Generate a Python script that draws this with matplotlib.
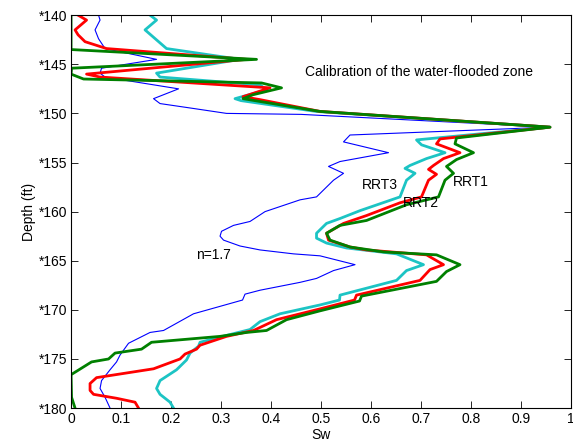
import numpy as np
import matplotlib
matplotlib.use("Agg")
import matplotlib.pyplot as plt

plt.rcParams.update({
    "font.family": ["Liberation Sans", "DejaVu Sans"], "font.size": 10,
    "xtick.direction": "in", "ytick.direction": "in",
    "xtick.top": True, "ytick.right": True,
})

# RRT2 (red)
red_d = [140, 140.5, 141.5, 142.0, 142.7, 143.4, 144.5, 146.0, 146.3, 147.4, 148.3, 148.6, 149.8,
         151.4, 152.6, 153.1, 154.0, 154.6, 155.3, 155.7, 156.2, 156.8, 158.5, 159.1, 160.4, 161.2,
         162.2, 162.9, 163.6, 163.9, 164.4, 165.4, 165.9, 167.0, 168.5, 169.0, 169.9, 171.0, 172.1,
         172.7, 173.6, 174.0, 174.5, 175.0, 176.0, 176.9, 177.5, 178.2, 178.6, 179.0, 179.4, 180]
red_sw = [0.014, 0.031, 0.008, 0.014, 0.028, 0.071, 0.351, 0.031, 0.058, 0.398, 0.344, 0.378, 0.498,
          0.958, 0.738, 0.731, 0.778, 0.745, 0.725, 0.715, 0.731, 0.715, 0.701, 0.658, 0.591, 0.545,
          0.511, 0.515, 0.558, 0.591, 0.711, 0.745, 0.718, 0.698, 0.571, 0.567, 0.498, 0.411, 0.365,
          0.311, 0.258, 0.251, 0.228, 0.218, 0.165, 0.051, 0.038, 0.038, 0.045, 0.091, 0.128, 0.135]

# RRT1 (green)
grn_d = [140, 143.5, 144.5, 145.4, 146.0, 146.5, 146.9, 147.4, 148.1, 148.5, 149.8, 151.4, 152.5,
         153.1, 154.0, 154.7, 155.4, 156.1, 156.8, 158.5, 159.3, 160.9, 161.4, 162.2, 162.9, 163.6,
         164.1, 164.4, 165.4, 166.1, 167.1, 168.6, 169.1, 170.1, 171.0, 172.1, 172.3, 172.7, 173.3,
         174.0, 174.4, 175.0, 175.3, 176.6, 178.9, 180]
grn_sw = [0.0, 0.0, 0.371, 0.001, 0.0, 0.025, 0.381, 0.421, 0.364, 0.344, 0.498, 0.958, 0.771,
          0.768, 0.805, 0.771, 0.751, 0.765, 0.748, 0.735, 0.671, 0.591, 0.538, 0.511, 0.518, 0.558,
          0.625, 0.731, 0.778, 0.751, 0.731, 0.581, 0.577, 0.498, 0.431, 0.391, 0.351, 0.298, 0.161,
          0.141, 0.088, 0.075, 0.041, 0.0, 0.001, 0.008]

# RRT3 (cyan)
cyn_d = [140, 140.5, 141.5, 143.4, 144.5, 145.9, 146.3, 147.1, 147.6, 148.5, 148.7, 149.8, 151.4,
         152.7, 153.2, 154.0, 154.6, 155.3, 155.6, 156.1, 156.8, 158.5, 159.9, 160.7, 161.2, 162.2,
         162.7, 163.2, 163.7, 164.3, 165.4, 166.0, 167.0, 168.5, 169.0, 169.5, 170.4, 171.2, 172.0,
         172.6, 173.3, 173.7, 174.4, 175.1, 176.1, 177.2, 178.0, 178.6, 179.4, 180]
cyn_sw = [0.158, 0.171, 0.148, 0.191, 0.338, 0.171, 0.178, 0.378, 0.391, 0.328, 0.34, 0.49, 0.958,
          0.691, 0.701, 0.748, 0.711, 0.678, 0.668, 0.688, 0.671, 0.658, 0.578, 0.538, 0.511, 0.491,
          0.491, 0.511, 0.551, 0.651, 0.705, 0.671, 0.651, 0.538, 0.537, 0.498, 0.418, 0.378, 0.358,
          0.311, 0.258, 0.255, 0.238, 0.231, 0.211, 0.178, 0.171, 0.178, 0.198, 0.205]

# n=1.7 (blue)
blu_d = [140, 140.5, 141.5, 142.4, 143.4, 144.5, 145.4, 145.9, 146.3, 147.5, 148.5, 149.0, 149.5,
         150.0, 150.1, 151.4, 152.2, 152.9, 154.0, 154.9, 155.4, 156.1, 156.8, 158.5, 158.8, 160.0,
         161.0, 161.4, 162.0, 162.5, 162.9, 163.5, 163.9, 164.3, 164.5, 165.4, 166.0, 166.8, 167.2,
         168.0, 168.4, 169.0, 170.4, 172.1, 172.3, 173.4, 174.6, 175.3, 176.1, 177.2, 178.0, 178.9, 180]
blu_sw = [0.055, 0.058, 0.048, 0.055, 0.068, 0.171, 0.061, 0.058, 0.068, 0.215, 0.165, 0.178, 0.245,
          0.311, 0.46, 0.958, 0.558, 0.545, 0.635, 0.538, 0.515, 0.545, 0.525, 0.491, 0.458, 0.388,
          0.358, 0.325, 0.301, 0.298, 0.305, 0.338, 0.378, 0.445, 0.498, 0.568, 0.525, 0.491, 0.458,
          0.378, 0.348, 0.343, 0.245, 0.185, 0.158, 0.115, 0.098, 0.091, 0.078, 0.061, 0.058, 0.068, 0.078]

yt = [140, 145, 150, 155, 160, 165, 170, 175, 180]
yt_lab = ["*%d" % v for v in yt]
xt = [0, 0.1, 0.2, 0.3, 0.4, 0.5, 0.6, 0.7, 0.8, 0.9, 1]
xt_lab = ["0", "0.1", "0.2", "0.3", "0.4", "0.5", "0.6", "0.7", "0.8", "0.9", "1"]

fig = plt.figure(figsize=(5.73, 4.46), dpi=100)
ax = fig.add_axes([0.124, 0.085, 0.8725, 0.881])
ax.plot(blu_sw, blu_d, color="#0000ff", lw=0.8)
ax.plot(cyn_sw, cyn_d, color="#1cc4c4", lw=2.0)
ax.plot(red_sw, red_d, color="#ff0000", lw=2.0)
ax.plot(grn_sw, grn_d, color="#008000", lw=2.0)

ax.set_xlim(0, 1); ax.set_ylim(180, 140)
ax.set_xticks(xt); ax.set_xticklabels(xt_lab)
ax.set_yticks(yt); ax.set_yticklabels(yt_lab)
ax.tick_params(length=5, width=0.6, pad=3)
for s in ax.spines.values():
    s.set_linewidth(0.8)
ax.set_xlabel("Sw", labelpad=1)
ax.set_ylabel("Depth (ft)", labelpad=2)

ax.text(0.468, 145.8, "Calibration of the water-flooded zone", va="center", ha="left")
ax.text(0.582, 157.3, "RRT3", va="center")
ax.text(0.664, 159.1, "RRT2", va="center")
ax.text(0.764, 157.0, "RRT1", va="center")
ax.text(0.25, 164.4, "n=1.7", va="center")

fig.savefig("out.png", dpi=100)
